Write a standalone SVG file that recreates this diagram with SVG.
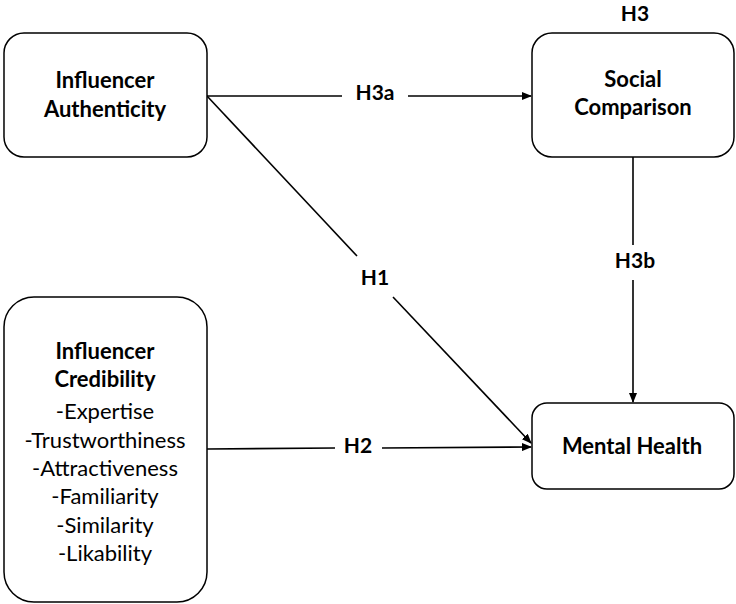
<svg xmlns="http://www.w3.org/2000/svg" width="736" height="604" viewBox="0 0 736 604">
  <style>
    .box { fill: #ffffff; stroke: #000000; stroke-width: 1.5; }
    .t { font-family: Lato, "Liberation Sans", sans-serif; font-size: 22px; fill: #000000; text-anchor: middle; }
    .b { font-weight: bold; }
    .lbl { font-family: Lato, "Liberation Sans", sans-serif; font-size: 21px; font-weight: bold; fill: #000000; text-anchor: middle; }
    .ln { fill: none; stroke: #000000; stroke-width: 1.6; }
  </style>
  <defs>
    <marker id="arr" markerWidth="10" markerHeight="8" refX="9" refY="4" orient="auto" markerUnits="userSpaceOnUse">
      <path d="M0,0 L10,4 L0,8 Z" fill="#000000"/>
    </marker>
  </defs>
  <rect width="736" height="604" fill="#ffffff"/>

  <g id="connectors">
    <line class="ln" x1="207" y1="96" x2="342" y2="96"/>
    <line class="ln" x1="408" y1="96" x2="531" y2="96" marker-end="url(#arr)"/>
    <line class="ln" x1="207" y1="96" x2="357" y2="256"/>
    <line class="ln" x1="393" y1="297" x2="531" y2="443" marker-end="url(#arr)"/>
    <line class="ln" x1="633" y1="157" x2="633" y2="245"/>
    <line class="ln" x1="633" y1="280" x2="633" y2="402" marker-end="url(#arr)"/>
    <line class="ln" x1="207" y1="449" x2="335" y2="448"/>
    <line class="ln" x1="382" y1="448" x2="531" y2="447" marker-end="url(#arr)"/>
    <text class="lbl" x="375" y="100">H3a</text>
    <text class="lbl" x="375" y="285">H1</text>
    <text class="lbl" x="635" y="268">H3b</text>
    <text class="lbl" x="358" y="453">H2</text>
    <text class="lbl" x="635" y="21">H3</text>
  </g>

  <g id="influencer-authenticity">
    <rect class="box" x="4" y="33" width="203" height="124" rx="20"/>
    <text class="t b" x="105" y="88">Influencer</text>
    <text class="t b" x="105" y="117">Authenticity</text>
  </g>

  <g id="social-comparison">
    <rect class="box" x="532" y="33" width="202" height="124" rx="20"/>
    <text class="t b" x="633" y="87">Social</text>
    <text class="t b" x="633" y="115">Comparison</text>
  </g>

  <g id="influencer-credibility">
    <rect class="box" x="4" y="297" width="203" height="305" rx="30"/>
    <text class="t b" x="105" y="359">Influencer</text>
    <text class="t b" x="105" y="387">Credibility</text>
    <text class="t" x="105" y="419">-Expertise</text>
    <text class="t" x="105" y="448">-Trustworthiness</text>
    <text class="t" x="105" y="476">-Attractiveness</text>
    <text class="t" x="105" y="504">-Familiarity</text>
    <text class="t" x="105" y="533">-Similarity</text>
    <text class="t" x="105" y="561">-Likability</text>
  </g>

  <g id="mental-health">
    <rect class="box" x="532" y="403" width="202" height="86" rx="15"/>
    <text class="t b" x="632" y="454">Mental Health</text>
  </g>
</svg>
